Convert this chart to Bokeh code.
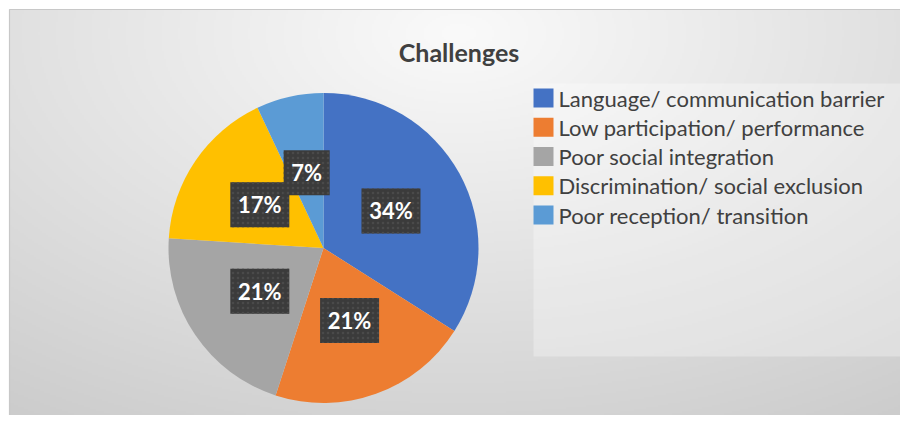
import numpy as np
from bokeh.plotting import figure
from bokeh.models import Range1d, ColumnDataSource
from bokeh.core.properties import value
from bokeh.embed import file_html
from bokeh.resources import INLINE

# ---- data ----
title_text = "Challenges"
categories = [
    "Language/ communication barrier",
    "Low participation/ performance",
    "Poor social integration",
    "Discrimination/ social exclusion",
    "Poor reception/ transition",
]
shares = [34, 21, 21, 17, 7]
colors = ["#4472C4", "#ED7D31", "#A5A5A5", "#FFC000", "#5B9BD5"]

# ---- layout: data x = picture x, data y = -picture y ----
W, H = 900, 415
CX0, CY0 = 9, 9                     # chart-area top-left corner
cx, cy, R = 323, -247.5, 155
label_r = 77
FONT = "Lato"

p = figure(width=W, height=H, x_range=Range1d(0, W), y_range=Range1d(-H, 0),
           output_backend="svg", toolbar_location=None, min_border=0,
           x_axis_location=None, y_axis_location=None)
p.grid.visible = False
p.outline_line_color = None
p.background_fill_color = "white"
p.border_fill_color = "white"

# radial background gradient of the chart area
aw, ah = W - CX0, H - CY0
gh, gw = ah // 2, aw // 2
yy, xx = np.mgrid[0:gh, 0:gw]
px = CX0 + (xx + 0.5) * aw / gw
py = H - (yy + 0.5) * ah / gh          # picture y (row 0 at bottom)
d = np.sqrt(((px - 458) / 700) ** 2 + ((py - 33) / 400) ** 2)
g = np.clip(250 - 40 * d, 195, 250).astype(np.uint32)
img = (255 << 24) | (g << 16) | (g << 8) | g
p.image_rgba(image=[img.astype(np.uint32)], x=CX0, y=-H, dw=aw, dh=ah)
p.quad(left=[CX0], right=[W + 5], top=[-CY0], bottom=[-H - 5], fill_color=None,
       line_color="#c8c8c8", line_width=1.2)

# pie
fr = np.array(shares, dtype=float) / sum(shares)
cum = np.concatenate([[0.0], np.cumsum(fr)])
start = np.pi / 2 - 2 * np.pi * cum[:-1]
end = np.pi / 2 - 2 * np.pi * cum[1:]
mid = (start + end) / 2
labels = [f"{s}%" for s in shares]
src = ColumnDataSource(dict(
    start=start, end=end, color=colors, cat=categories,
    lx=cx + label_r * np.cos(mid), ly=cy + label_r * np.sin(mid),
    lab=labels, lw=[20 + 13 * len(t) for t in labels],
))
p.wedge(x=cx, y=cy, radius=R, start_angle="start", end_angle="end",
        direction="clock", fill_color="color", line_color=None, source=src)

# data label boxes
p.rect(x="lx", y="ly", width="lw", height=45, source=src,
       fill_color="#3b3b3b", line_color=None,
       hatch_pattern="dot", hatch_color="#4a4a4a", hatch_scale=5, hatch_weight=1)
p.text(x="lx", y="ly", text="lab", source=src, text_color="white",
       text_font=value(FONT), text_font_style="bold", text_font_size="22px",
       text_align="center", text_baseline="middle")

# title
p.text(x=[458.5], y=[-51], text=[title_text], text_color="#404040",
       text_font=value(FONT), text_font_style="bold", text_font_size="25px",
       text_align="center", text_baseline="middle")

# legend
p.rect(x=[716.5], y=[-219.5], width=367, height=273, fill_color="white",
       fill_alpha=0.3, line_color=None)
n = len(categories)
leg_y = [-(97.5 + 29.25 * i) for i in range(n)]
p.rect(x=[543] * n, y=leg_y, width=20, height=19, fill_color=colors, line_color=None)
p.text(x=[558] * n, y=leg_y, text=categories, text_color="#404040",
       text_font=value(FONT), text_font_size="22px",
       text_align="left", text_baseline="middle")

open("out.html", "w").write(file_html(p, INLINE))
